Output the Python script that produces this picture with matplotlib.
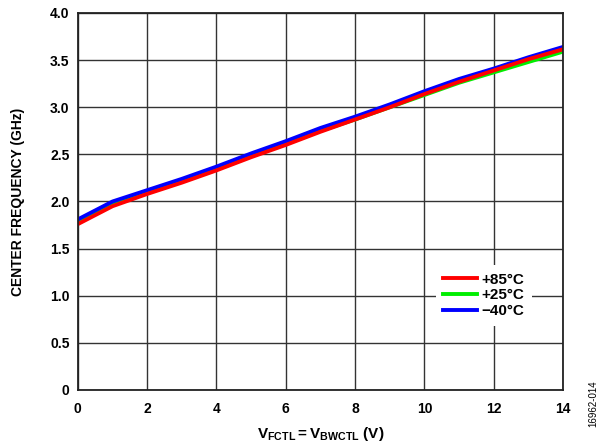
import matplotlib.pyplot as plt
import numpy as np

plt.rcParams['font.family'] = ['Liberation Sans', 'DejaVu Sans']
plt.rcParams['font.weight'] = 'bold'
plt.rcParams['axes.labelweight'] = 'bold'
plt.rcParams['mathtext.fontset'] = 'custom'
plt.rcParams['mathtext.rm'] = 'Liberation Sans:bold'
plt.rcParams['mathtext.bf'] = 'Liberation Sans:bold'
plt.rcParams['mathtext.it'] = 'Liberation Sans:bold'

# 控制电压 (V) 与中心频率 (GHz)
v_ctl = [0, 1, 2, 3, 4, 5, 6, 7, 8, 9, 10, 11, 12, 13, 14]
f_85 = [1.76, 1.95, 2.08, 2.20, 2.33, 2.47, 2.60, 2.74, 2.87, 3.00, 3.14, 3.27, 3.39, 3.51, 3.615]
f_25 = [1.78, 1.97, 2.10, 2.22, 2.35, 2.49, 2.61, 2.75, 2.87, 3.00, 3.13, 3.26, 3.37, 3.48, 3.59]
f_m40 = [1.81, 2.00, 2.12, 2.24, 2.37, 2.51, 2.64, 2.78, 2.90, 3.03, 3.17, 3.30, 3.41, 3.53, 3.64]
labels = ['+85°C', '+25°C', '\u221240°C']
colors = ['#ff0000', '#00ee00', '#0000ff']

fig = plt.figure(figsize=(5.99, 4.48), dpi=100)
ax = fig.add_axes([0.130, 0.1295, 0.810, 0.8415])

# 绿线在最下层，红线在最上层
lines = {}
for idx in [1, 2, 0]:
    f = [f_85, f_25, f_m40][idx]
    lines[idx], = ax.plot(v_ctl, f, color=colors[idx], linewidth=2.8, label=labels[idx])

ax.set_xlim(0, 14)
ax.set_ylim(0, 4.0)
ax.set_xticks(np.arange(0, 15, 2))
ax.set_yticks(np.arange(0, 4.01, 0.5))
ax.set_yticklabels(['0'] + ['%.1f' % v for v in np.arange(0.5, 4.01, 0.5)])
ax.grid(True, color='#333333', linewidth=1.0)
ax.set_axisbelow(True)
ax.tick_params(length=0, labelsize=10)
ax.tick_params(axis='x', pad=9)
ax.tick_params(axis='y', pad=6)
for s in ax.spines.values():
    s.set_linewidth(1.3)
    s.set_color('#222222')

ax.set_xlabel(r'$\mathbf{V_{FCTL} = V_{BWCTL}}$ (V)', fontsize=11, labelpad=6)
ax.set_ylabel('CENTER FREQUENCY (GHz)', fontsize=10, labelpad=18)

leg = ax.legend([lines[0], lines[1], lines[2]], labels,
                loc='lower right', bbox_to_anchor=(0.936, 0.170), frameon=True,
                fancybox=False, edgecolor='none', framealpha=1, fontsize=11,
                handlelength=2.2, handletextpad=0.3, labelspacing=0.12,
                borderpad=0.5, borderaxespad=0)

fig.text(0.990, 0.10, '16962-014', rotation=90, fontsize=7,
         fontweight='normal', ha='center', va='center')

fig.savefig('out.png', dpi=100)
